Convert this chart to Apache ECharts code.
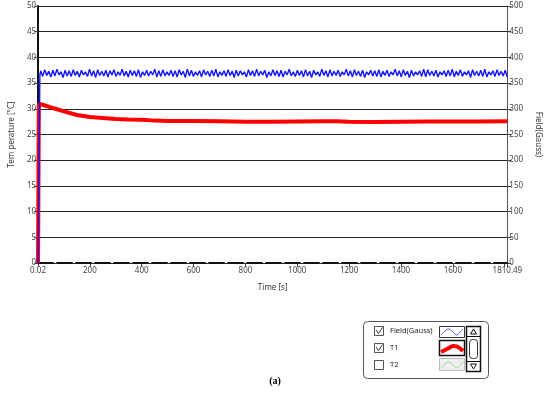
<!DOCTYPE html>
<html>
<head>
<meta charset="utf-8">
<script src="https://cdn.jsdelivr.net/npm/echarts@6/dist/echarts.min.js"></script>
<style>
html,body{margin:0;padding:0;background:#fff;}
#chart{width:550px;height:397px;}
</style>
</head>
<body>
<div id="chart"></div>
<script>
// ---- data ----
var xTickValues = [0.02, 200, 400, 600, 800, 1000, 1200, 1400, 1600, 1800, 1810.49];
var xLabelValues = [0.02, 200, 400, 600, 800, 1000, 1200, 1400, 1600, 1810.49];

// T1 temperature (°C) : time (s) and value
var t1Times  = [0.02, 3, 10, 30, 60, 100, 150, 200, 250, 300, 350, 400, 450, 500, 600, 700, 800, 900, 1000, 1100, 1150, 1200, 1300, 1400, 1500, 1600, 1700, 1810.49];
var t1Values = [0, 31, 31, 30.6, 30.1, 29.5, 28.8, 28.4, 28.2, 28.0, 27.9, 27.85, 27.7, 27.65, 27.65, 27.6, 27.5, 27.5, 27.55, 27.6, 27.6, 27.5, 27.45, 27.5, 27.55, 27.55, 27.55, 27.6];

// Field (Gauss): initial ramp, then samples every 7.86 s from t = 10 s
var fieldRampTimes  = [0.02, 7];
var fieldRampValues = [0, 365];
var fieldT0 = 10, fieldDt = 7.86;
var fieldValues = [
374,363,376,365,373,362,375,364,377,366,
372,361,375,364,374,363,376,365,373,362,
375,366,372,363,377,364,374,361,376,365,
373,364,375,362,374,366,376,363,372,365,
377,364,373,362,375,365,374,363,376,361,
372,365,375,364,373,366,377,362,374,363,
376,364,372,365,375,363,374,362,376,366,
373,361,377,364,375,363,372,365,374,362,
376,366,373,363,375,364,377,362,372,365,
374,363,376,365,373,361,375,364,374,366,
372,362,376,365,374,363,377,364,373,366,
375,361,372,364,376,365,374,363,375,362,
373,366,377,364,372,363,375,365,374,362,
376,364,373,361,375,366,372,363,377,365,
374,362,376,364,373,365,375,363,372,366,
377,364,374,362,376,365,373,363,375,361,
372,366,375,364,374,363,376,362,373,365,
375,363,372,366,377,364,374,362,376,365,
373,361,375,364,372,366,374,363,377,362,
376,365,373,364,375,362,372,366,374,363,
375,364,377,362,373,365,376,363,372,366,
374,361,376,365,373,364,375,363,377,362,
372,366,374,363,376,365,373,364,375,362];

// T2 baseline (dashed) at 0
var t2Times = [0.02, 1810.49];
var t2Values = [0, 0];

// ---- build series data ----
function pairs(xs, ys){ var o=[]; for(var i=0;i<xs.length;i++) o.push([xs[i], ys[i]]); return o; }
var fieldData = pairs(fieldRampTimes, fieldRampValues);
for (var i=0;i<fieldValues.length;i++) fieldData.push([fieldT0 + i*fieldDt, fieldValues[i]]);

var FONT = '"Noto Sans", "Open Sans", sans-serif';
var chart = echarts.init(document.getElementById('chart'), null, {renderer:'canvas'});

var option = {
  animation: false,
  backgroundColor: '#fff',
  grid: {left: 31, right: 35, top: 6, bottom: 134, containLabel: false},
  xAxis: {
    type: 'value', min: 0.02, max: 1810.49,
    name: 'Time [s]', nameLocation: 'middle', nameGap: 21,
    nameTextStyle: {fontSize: 8, color: '#333', fontFamily: FONT},
    axisLine: {show: true, onZero: false, lineStyle: {color: '#222', width: 2, type: [15, 4]}},
    axisTick: {show: true, length: 4, customValues: xTickValues, lineStyle: {color: '#444'}},
    axisLabel: {customValues: xLabelValues, fontSize: 8, color: '#444', fontFamily: FONT, margin: 4,
      formatter: function(v){ return String(v); }},
    splitLine: {show: false}
  },
  yAxis: [{
    type: 'value', min: 0, max: 50, interval: 5, position: 'left',
    name: 'Tem perature [°C]', nameLocation: 'middle', nameGap: 22, nameRotate: 90,
    nameTextStyle: {fontSize: 8, color: '#333', fontFamily: FONT},
    axisLine: {show: true, lineStyle: {color: '#111', width: 2}},
    axisTick: {show: true, length: 4, lineStyle: {color: '#444'}},
    axisLabel: {fontSize: 8, color: '#444', fontFamily: FONT, margin: 2},
    splitLine: {show: true, lineStyle: {color: '#222', width: 1}}
  }, {
    type: 'value', min: 0, max: 500, interval: 50, position: 'right',
    name: 'Field(Gauss)', nameLocation: 'middle', nameGap: 25, nameRotate: -90,
    nameTextStyle: {fontSize: 8, color: '#333', fontFamily: FONT},
    axisLine: {show: true, lineStyle: {color: '#555', width: 1}},
    axisTick: {show: true, length: 4, lineStyle: {color: '#444'}},
    axisLabel: {fontSize: 8, color: '#444', fontFamily: FONT, margin: 2},
    splitLine: {show: false}
  }],
  series: [{
    name: 'T2', type: 'line', yAxisIndex: 0, data: pairs(t2Times, t2Values),
    symbol: 'none', lineStyle: {color: '#111', width: 2, type: [15, 4]}, z: 1
  }, {
    name: 'T1', type: 'line', yAxisIndex: 0, data: pairs(t1Times, t1Values),
    symbol: 'none', lineStyle: {color: '#ff0000', width: 4}, z: 3
  }, {
    name: 'Field(Gauss)', type: 'line', yAxisIndex: 1, data: fieldData,
    symbol: 'none', lineStyle: {color: '#1414ff', width: 1.4}, z: 4
  }],
  graphic: [
    // legend frame
    {type: 'rect', shape: {x: 363.5, y: 321.5, width: 125, height: 57, r: 4}, style: {fill: '#fff', stroke: '#555', lineWidth: 1}},
    // checkboxes
    {type: 'rect', shape: {x: 374.5, y: 326.5, width: 9, height: 9}, style: {fill: '#fff', stroke: '#555', lineWidth: 1}},
    {type: 'rect', shape: {x: 374.5, y: 343.5, width: 9, height: 9}, style: {fill: '#fff', stroke: '#555', lineWidth: 1}},
    {type: 'rect', shape: {x: 374.5, y: 360.5, width: 9, height: 9}, style: {fill: '#fff', stroke: '#555', lineWidth: 1}},
    {type: 'polyline', shape: {points: [[376,330],[378.5,333.5],[382.5,327.5]]}, style: {fill: null, stroke: '#333', lineWidth: 1}},
    {type: 'polyline', shape: {points: [[376,347],[378.5,350.5],[382.5,344.5]]}, style: {fill: null, stroke: '#333', lineWidth: 1}},
    // labels
    {type: 'text', x: 390, y: 331, style: {text: 'Field(Gauss)', fontSize: 7.5, fill: '#222', fontFamily: FONT, verticalAlign: 'middle'}},
    {type: 'text', x: 390, y: 348, style: {text: 'T1', fontSize: 7.5, fill: '#222', fontFamily: FONT, verticalAlign: 'middle'}},
    {type: 'text', x: 390, y: 365, style: {text: 'T2', fontSize: 7.5, fill: '#222', fontFamily: FONT, verticalAlign: 'middle'}},
    // sample images
    {type: 'rect', shape: {x: 439.5, y: 326.5, width: 25, height: 11}, style: {fill: '#fff', stroke: '#333', lineWidth: 1}},
    {type: 'polyline', shape: {points: [[441,335],[445,331],[449,329],[453,332],[457,335],[461,331],[463,329]], smooth: 0.4}, style: {fill: null, stroke: '#3333ff', lineWidth: 0.8}},
    {type: 'rect', shape: {x: 439.5, y: 340.5, width: 25, height: 15}, style: {fill: '#fff', stroke: '#111', lineWidth: 1.5}},
    {type: 'polyline', shape: {points: [[441,352],[447,349],[453,346],[458,347],[463,351]], smooth: 0.4}, style: {fill: null, stroke: '#ff0000', lineWidth: 4}},
    {type: 'rect', shape: {x: 439.5, y: 358.5, width: 25, height: 12}, style: {fill: '#eeeeee', stroke: '#bbb', lineWidth: 1}},
    {type: 'polyline', shape: {points: [[441,368],[445,364],[449,362],[453,365],[457,368],[461,364],[463,362]], smooth: 0.4}, style: {fill: null, stroke: '#88dd88', lineWidth: 0.8}},
    // scroll widget
    {type: 'rect', shape: {x: 466.5, y: 326.5, width: 14, height: 45}, style: {fill: '#fff', stroke: '#111', lineWidth: 1.5}},
    {type: 'line', shape: {x1: 466.5, y1: 336.5, x2: 480.5, y2: 336.5}, style: {stroke: '#111', lineWidth: 1}},
    {type: 'line', shape: {x1: 466.5, y1: 361.5, x2: 480.5, y2: 361.5}, style: {stroke: '#111', lineWidth: 1}},
    {type: 'polygon', shape: {points: [[473.5,329],[470.5,334],[476.5,334]]}, style: {fill: '#fff', stroke: '#111', lineWidth: 1}},
    {type: 'polygon', shape: {points: [[473.5,369],[470.5,364],[476.5,364]]}, style: {fill: '#fff', stroke: '#111', lineWidth: 1}},
    {type: 'rect', shape: {x: 469.5, y: 339.5, width: 8, height: 19, r: 3}, style: {fill: '#fff', stroke: '#333', lineWidth: 1}},
    // caption
    {type: 'text', x: 275, y: 381, style: {text: '(a)', fontSize: 10, fontWeight: 'bold', fill: '#000', fontFamily: '"Liberation Serif", "DejaVu Serif", serif', align: 'center', verticalAlign: 'middle'}}
  ]
};
chart.setOption(option);
</script>
</body>
</html>
